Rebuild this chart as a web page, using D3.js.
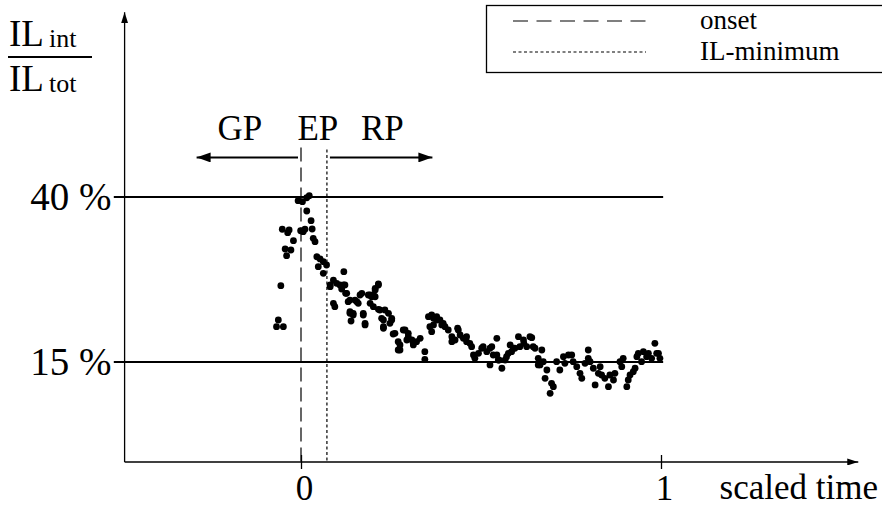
<!DOCTYPE html>
<html>
<head>
<meta charset="utf-8">
<script src="https://cdn.jsdelivr.net/npm/d3@7"></script>
<style>
	body { margin: 0; background: #fff; }
	svg { display: block; }
	svg text { font-family: "Liberation Serif", "DejaVu Serif", serif; fill: #000; }
</style>
</head>
<body>
<div id="chart"></div>
<script>
// scaled time of each measurement (0 = onset, 1 = end)
const scaledTime = [
	-0.008, 0.004, 0.016, 0.023, 0.016, 0.028, -0.052, -0.033, -0.037, -0.001,
	0.006, 0.011, 0.031, 0.034, 0.039, -0.021, -0.044, -0.028, -0.040, 0.044,
	0.053, 0.062, 0.071, 0.048, 0.062, -0.056, 0.119, 0.081, 0.090, 0.099,
	0.108, 0.122, 0.113, 0.124, 0.090, 0.094, 0.136, 0.150, 0.164, 0.159,
	0.136, 0.145, 0.139, -0.063, -0.068, -0.049, 0.118, 0.131, 0.155, 0.169,
	0.173, 0.178, 0.187, 0.196, 0.206, 0.215, 0.201, 0.192, 0.201, 0.215,
	0.233, 0.243, 0.224, 0.229, 0.252, 0.247, 0.256, 0.270, 0.275, 0.284,
	0.298, 0.294, 0.308, 0.312, 0.321, 0.331, 0.344, 0.344, 0.354, 0.358,
	0.368, 0.377, 0.363, 0.363, 0.368, 0.377, 0.386, 0.395, 0.400, 0.409,
	0.419, 0.428, 0.437, 0.442, 0.451, 0.460, 0.460, 0.469, 0.474, 0.479,
	0.483, 0.493, 0.502, 0.506, 0.516, 0.525, 0.525, 0.534, 0.544, 0.548,
	0.558, 0.567, 0.571, 0.581, 0.585, 0.594, 0.604, 0.608, 0.618, 0.627,
	0.636, 0.645, 0.659, 0.641, 0.650, 0.669, 0.659, 0.664, 0.673, 0.683,
	0.678, 0.696, 0.701, 0.692, 0.710, 0.719, 0.729, 0.733, 0.743, 0.752,
	0.756, 0.766, 0.775, 0.780, 0.789, 0.798, 0.798, 0.803, 0.812, 0.817,
	0.826, 0.831, 0.835, 0.844, 0.854, 0.858, 0.868, 0.872, 0.886, 0.891,
	0.895, 0.905, 0.909, 0.914, 0.923, 0.928, 0.933, 0.937, 0.946, 0.951,
	0.960, 0.965, 0.974, 0.983, 0.988, 0.997, 0.993,
	0.419, 0.435, 0.391, 0.530, 0.544, 0.550, 0.576, 0.590, 0.619, 0.127,
	0.136, 0.145, 0.081, 0.173, 0.178, 0.192, 0.206, 0.215, 0.206, 0.219,
	0.229, 0.229, 0.252, 0.261, 0.275, 0.270, 0.289, 0.298, 0.312
];

// IL_int / IL_tot in percent
const ilRatio = [
	39.44, 39.29, 39.89, 40.20, 37.88, 36.41, 35.11, 35.00, 34.59, 34.89,
	34.74, 35.11, 35.15, 33.74, 33.23, 33.38, 32.12, 31.97, 31.11, 30.95,
	30.61, 30.20, 29.70, 29.44, 28.44, 26.56, 28.68, 26.67, 27.42, 26.92,
	26.67, 26.67, 26.06, 25.41, 23.89, 23.38, 24.39, 24.39, 25.15, 23.89,
	22.38, 22.12, 21.21, 21.36, 20.35, 20.35, 26.67, 24.14, 24.14, 25.41,
	22.38, 20.86, 25.15, 24.89, 25.91, 26.82, 25.15, 23.89, 23.38, 22.98,
	22.88, 22.38, 21.62, 20.11, 21.36, 20.86, 19.24, 18.08, 16.82, 19.85,
	19.35, 18.33, 18.33, 17.58, 18.08, 18.59, 16.56, 15.41, 21.86, 20.35,
	20.61, 21.36, 19.59, 22.12, 21.62, 21.86, 21.36, 20.86, 20.35, 19.85,
	18.83, 18.33, 19.85, 19.09, 18.59, 18.83, 18.08, 17.83, 17.32, 16.06,
	15.56, 16.32, 17.08, 17.32, 16.56, 17.08, 14.55, 16.06, 18.59, 15.30,
	14.05, 15.30, 15.80, 17.58, 16.56, 17.08, 18.83, 17.32, 18.33, 17.32,
	18.83, 17.32, 14.55, 18.68, 17.08, 16.82, 15.56, 14.55, 15.05, 13.79,
	12.53, 11.77, 11.26, 10.26, 15.05, 13.79, 15.80, 14.80, 16.06, 16.06,
	15.05, 14.29, 13.29, 12.53, 14.80, 16.82, 15.56, 15.05, 14.05, 11.52,
	13.29, 14.29, 13.03, 12.53, 11.26, 13.03, 12.27, 13.29, 15.05, 14.29,
	15.56, 11.26, 12.27, 13.03, 13.53, 14.05, 15.80, 16.32, 15.05, 16.56,
	15.80, 16.32, 15.56, 17.83, 16.32, 15.56, 16.32,
	18.08, 20.11, 20.61, 17.32, 16.06, 15.30, 16.32, 17.08, 17.83, 25.41,
	22.62, 22.38, 26.41, 22.12, 20.61, 25.15, 24.89, 26.67, 26.17, 22.88,
	21.36, 20.35, 21.62, 19.35, 17.58, 16.82, 19.85, 18.83, 17.83
];

const yTicks = [15, 40];
const yTickLabels = ["15 %", "40 %"];
const xTicks = [0, 1];
const xTickLabels = ["0", "1"];
const onset = 0;
const ilMinimum = 0.072;
const phaseNames = ["GP", "EP", "RP"];
const legendNames = ["onset", "IL-minimum"];

const width = 882, height = 507;
const serif = "Liberation Serif";
const x = d3.scaleLinear().domain([0, 1]).range([301, 661]);
const y = d3.scaleLinear().domain([0, 40]).range([461, 197]);

const svg = d3.select("#chart")
	.append("svg")
		.attr("width", width)
		.attr("height", height)
		.attr("font-family", serif)
		.attr("viewBox", `0 0 ${width} ${height}`);

let defs = svg.append("defs");
function arrowHead(id, w, l) {
	defs.append("marker")
		.attr("id", id)
		.attr("viewBox", `0 ${-w} ${l} ${2 * w}`)
		.attr("refX", l)
		.attr("refY", 0)
		.attr("markerUnits", "userSpaceOnUse")
		.attr("markerWidth", l)
		.attr("markerHeight", 2 * w)
		.attr("orient", "auto")
		.append("path")
			.attr("d", `M0,${-w}L${l},0L0,${w}Z`)
			.attr("fill", "#000");
}
arrowHead("axisArrow", 3.5, 11);
arrowHead("phaseArrow", 5, 14);

// reference lines at 15 % and 40 %
svg.append("g")
	.selectAll("line")
	.data(yTicks)
	.enter()
	.append("line")
		.attr("x1", x(-0.52))
		.attr("x2", x(1.006))
		.attr("y1", d => y(d))
		.attr("y2", d => y(d))
		.attr("stroke", "#000")
		.attr("stroke-width", 2);

// axes with arrows
svg.append("line")
	.attr("x1", x(-0.49)).attr("y1", y(-0.15))
	.attr("x2", x(-0.49)).attr("y2", y(68))
	.attr("stroke", "#000").attr("stroke-width", 1.3)
	.attr("marker-end", "url(#axisArrow)");
svg.append("line")
	.attr("x1", x(-0.49)).attr("y1", y(-0.15))
	.attr("x2", x(1.548)).attr("y2", y(-0.15))
	.attr("stroke", "#000").attr("stroke-width", 1.3)
	.attr("marker-end", "url(#axisArrow)");

let xAxis = svg.append("g")
	.attr("transform", `translate(0, ${y(-0.15)})`)
	.call(d3.axisBottom(x).tickValues(xTicks).tickFormat((d, i) => xTickLabels[i]).tickSize(7).tickPadding(6));
xAxis.select(".domain").remove();
xAxis.attr("font-family", serif);
xAxis.selectAll(".tick line").attr("y1", -7).attr("stroke-width", 1.3);
xAxis.selectAll(".tick text")
	.attr("font-size", 35)
	.attr("dx", 3);

svg.append("text")
	.attr("x", 878)
	.attr("y", 499)
	.attr("text-anchor", "end")
	.attr("font-size", 35)
	.text("scaled time");

let yAxis = svg.append("g")
	.attr("transform", `translate(${x(-0.49)}, 0)`)
	.call(d3.axisLeft(y).tickValues(yTicks).tickFormat((d, i) => yTickLabels[i]).tickSize(0).tickPadding(13));
yAxis.select(".domain").remove();
yAxis.attr("font-family", serif);
yAxis.selectAll(".tick text")
	.attr("font-size", 39);

// y label as fraction
let yLabel = svg.append("g").attr("class", "ylabel");
yLabel.append("text").attr("x", 9).attr("y", 46).attr("font-size", 37)
	.text("IL").append("tspan").attr("dx", 5).attr("dy", 1).attr("font-size", 26).text("int");
yLabel.append("line").attr("x1", 8).attr("x2", 92).attr("y1", 57).attr("y2", 57)
	.attr("stroke", "#000").attr("stroke-width", 2);
yLabel.append("text").attr("x", 9).attr("y", 91).attr("font-size", 37)
	.text("IL").append("tspan").attr("dx", 5).attr("dy", 1).attr("font-size", 26).text("tot");

// onset and IL-minimum markers
svg.append("line")
	.attr("x1", x(onset)).attr("x2", x(onset))
	.attr("y1", y(47.5)).attr("y2", y(-0.15))
	.attr("stroke", "#000").attr("stroke-width", 1.2)
	.attr("stroke-dasharray", "14,6");
svg.append("line")
	.attr("x1", x(ilMinimum)).attr("x2", x(ilMinimum))
	.attr("y1", y(47.2)).attr("y2", y(-0.15))
	.attr("stroke", "#000").attr("stroke-width", 1.2)
	.attr("stroke-dasharray", "3,2.5");

// phase arrows and labels
const phaseY = y(46);
svg.append("line")
	.attr("x1", x(onset) - 3).attr("x2", x(-0.29))
	.attr("y1", phaseY).attr("y2", phaseY)
	.attr("stroke", "#000").attr("stroke-width", 2)
	.attr("marker-end", "url(#phaseArrow)");
svg.append("line")
	.attr("x1", x(ilMinimum) + 3).attr("x2", x(0.365))
	.attr("y1", phaseY).attr("y2", phaseY)
	.attr("stroke", "#000").attr("stroke-width", 2)
	.attr("marker-end", "url(#phaseArrow)");
svg.append("g")
	.selectAll("text")
	.data(phaseNames)
	.enter()
	.append("text")
		.attr("x", (d, i) => x([-0.17, 0.047, 0.226][i]))
		.attr("y", y(48.6))
		.attr("text-anchor", "middle")
		.attr("font-size", 35)
		.text(d => d);

// measurements
svg.append("g")
	.attr("class", "points")
	.selectAll("circle")
	.data(d3.zip(scaledTime, ilRatio))
	.enter()
	.append("circle")
		.attr("cx", d => x(d[0]))
		.attr("cy", d => y(d[1]))
		.attr("r", 3.4)
		.attr("fill", "#000");

// legend
let legend = svg.append("g").attr("class", "legend");
legend.append("rect")
	.attr("x", 486.5).attr("y", 5.5)
	.attr("width", 420).attr("height", 67)
	.attr("fill", "#fff").attr("stroke", "#000").attr("stroke-width", 1.3);
let legendItems = legend.selectAll("g")
	.data(legendNames)
	.enter()
	.append("g")
		.attr("transform", (d, i) => `translate(0, ${21 + i * 31})`);
legendItems.append("line")
	.attr("x1", 513).attr("x2", 646)
	.attr("stroke", "#000").attr("stroke-width", 1.2)
	.attr("stroke-dasharray", (d, i) => i ? "3,2.5" : "15,8.5");
legendItems.append("text")
	.attr("x", 700)
	.attr("y", 8)
	.attr("font-size", 27)
	.text(d => d);
</script>
</body>
</html>
